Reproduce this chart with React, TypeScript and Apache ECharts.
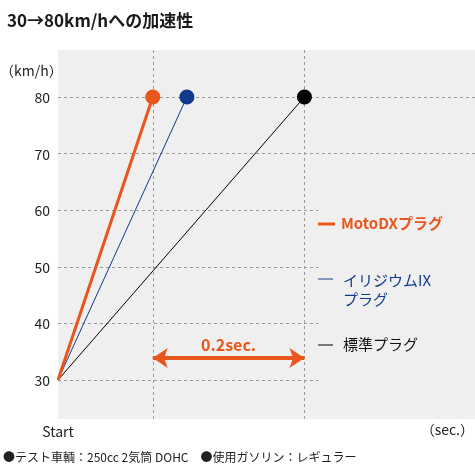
import { useEffect, useRef } from "react";
import * as echarts from "echarts";

const speeds = [30, 80];
const motoTimes = [0, 0.125];
const iridiumTimes = [0, 0.17];
const standardTimes = [0, 0.325];
const yTicks = [30, 40, 50, 60, 70, 80];
const gridFull = [70, 80];
const gridShort = [30, 40, 50, 60];
const gapSpan = [0.125, 0.325];
const gapSpeed = 33.9;

const ORANGE = "#e8561c";
const BLUE = "#123a8c";
const FONT = "'Noto Sans CJK JP', 'Noto Sans', sans-serif";
const X_MAX = 0.55;
const Y_MIN = 23.1;
const Y_MAX = 88.3;
const SHORT_END = 0.343;

const pts = (ts: number[]) => ts.map((t, i) => [t, speeds[i]]);

export default function App() {
  const ref = useRef<HTMLDivElement>(null);

  useEffect(() => {
    const el = ref.current;
    if (!el) return;
    const chart = echarts.init(el, undefined, { renderer: "svg" });
    const dash = { color: "#9a9a9a", type: [3, 3] as number[], width: 1 };
    const endDot = (_v: unknown, p: { dataIndex: number }) => (p.dataIndex === 1 ? 15 : 0);

    chart.setOption({
      animation: false,
      textStyle: { fontFamily: FONT },
      title: {
        text: "30→80km/hへの加速性",
        left: 2,
        top: 6,
        textStyle: { fontSize: 17, fontWeight: "bold", color: "#1a1a1a", fontFamily: FONT },
      },
      grid: {
        left: 58,
        right: 0,
        top: 50,
        bottom: 48,
        show: true,
        backgroundColor: "#efefef",
        borderWidth: 0,
      },
      xAxis: {
        type: "value",
        min: 0,
        max: X_MAX,
        axisLine: { show: false },
        axisTick: { show: false },
        splitLine: { show: false },
        axisLabel: {
          customValues: [0],
          formatter: () => "Start",
          fontSize: 14,
          color: "#222",
          margin: 5,
        },
      },
      yAxis: {
        type: "value",
        min: Y_MIN,
        max: Y_MAX,
        axisLine: { show: false },
        axisTick: { show: false },
        splitLine: { show: false },
        axisLabel: { customValues: yTicks, fontSize: 14, color: "#222", margin: 8 },
      },
      series: [
        {
          type: "line",
          data: [],
          z: 1,
          silent: true,
          markLine: {
            silent: true,
            z: 1,
            symbol: "none",
            label: { show: false },
            lineStyle: dash,
            data: [
              ...gridFull.map((v) => [{ coord: [0, v] }, { coord: [X_MAX, v] }]),
              ...gridShort.map((v) => [{ coord: [0, v] }, { coord: [SHORT_END, v] }]),
              ...gapSpan.map((t) => [{ coord: [t, Y_MIN] }, { coord: [t, Y_MAX] }]),
            ],
          },
        },
        {
          name: "標準プラグ",
          type: "line",
          data: pts(standardTimes),
          z: 3,
          symbol: "circle",
          symbolSize: endDot,
          itemStyle: { color: "#000" },
          lineStyle: { color: "#000", width: 1 },
        },
        {
          name: "イリジウムIXプラグ",
          type: "line",
          data: pts(iridiumTimes),
          z: 4,
          symbol: "circle",
          symbolSize: endDot,
          itemStyle: { color: BLUE },
          lineStyle: { color: BLUE, width: 1 },
        },
        {
          name: "MotoDXプラグ",
          type: "line",
          data: pts(motoTimes),
          z: 5,
          symbol: "circle",
          symbolSize: endDot,
          itemStyle: { color: ORANGE },
          lineStyle: { color: ORANGE, width: 3 },
          markLine: {
            silent: true,
            z: 2,
            symbol: ["arrow", "arrow"],
            symbolSize: [15, 15],
            lineStyle: { color: ORANGE, width: 4, type: "solid" },
            label: {
              show: true,
              position: "middle",
              formatter: "0.2sec.",
              color: ORANGE,
              fontSize: 16,
              fontWeight: "bold",
              distance: 6,
            },
            data: [[{ coord: [gapSpan[0], gapSpeed] }, { coord: [gapSpan[1], gapSpeed] }]],
          },
        },
      ],
      graphic: [
        { type: "text", left: 0, top: 63, style: { text: "（km/h）", fill: "#222", font: `14px ${FONT}` } },
        { type: "text", right: 1, top: 422, style: { text: "（sec.）", fill: "#222", font: `14px ${FONT}` } },
        {
          type: "text",
          left: 3,
          top: 450,
          style: { text: "●テスト車輌：250cc 2気筒 DOHC　●使用ガソリン：レギュラー", fill: "#222", font: `12px ${FONT}` },
        },
        { type: "rect", shape: { x: 318, y: 222.5, width: 17, height: 3 }, style: { fill: ORANGE } },
        {
          type: "text",
          x: 341,
          y: 215,
          style: { text: "MotoDXプラグ", fill: ORANGE, font: `bold 15px ${FONT}` },
        },
        { type: "rect", shape: { x: 318, y: 278.5, width: 15, height: 1 }, style: { fill: BLUE } },
        {
          type: "text",
          x: 343,
          y: 270,
          style: { text: "イリジウムIX\nプラグ", fill: BLUE, font: `15px ${FONT}`, lineHeight: 19 },
        },
        { type: "rect", shape: { x: 318, y: 344.5, width: 15, height: 1 }, style: { fill: "#000" } },
        {
          type: "text",
          x: 343,
          y: 336,
          style: { text: "標準プラグ", fill: "#111", font: `15px ${FONT}` },
        },
      ],
    });

    return () => {
      chart.dispose();
    };
  }, []);

  return <div ref={ref} style={{ position: "fixed", left: 0, top: 0, width: 475, height: 467 }} />;
}
